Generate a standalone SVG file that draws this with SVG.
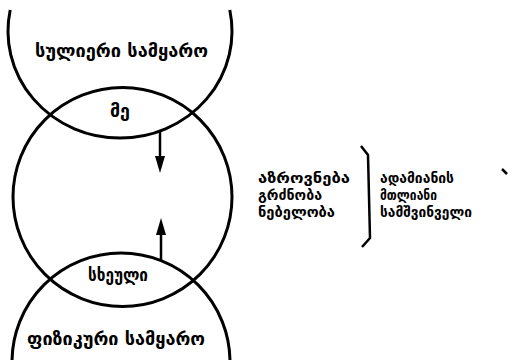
<svg xmlns="http://www.w3.org/2000/svg" width="508" height="360" viewBox="0 0 508 360">
<style>
.c{fill:none;stroke:#000;stroke-width:3}
.l{fill:none;stroke:#000;stroke-width:2.5}
.t{font-family:"DejaVu Sans",sans-serif;font-weight:bold;fill:#000}
.big{font-size:17px}
.sm{font-size:15px}
</style>
<g id="spiritual-world">
<path class="c" d="M10.2,10 A112,107 0 1 0 229.8,10"/>
<text class="t big" x="35" y="57" textLength="173" lengthAdjust="spacingAndGlyphs">სულიერი სამყარო</text>
</g>
<g id="soul">
<circle class="c" cx="122.5" cy="197" r="109.5"/>
</g>
<g id="physical-world">
<circle class="c" cx="121" cy="362" r="109"/>
<text class="t big" x="27" y="345" textLength="178" lengthAdjust="spacingAndGlyphs">ფიზიკური სამყარო</text>
</g>
<g id="me"><text class="t big" x="110" y="117" textLength="20" lengthAdjust="spacingAndGlyphs">მე</text></g>
<g id="body"><text class="t big" x="88" y="281" textLength="60" lengthAdjust="spacingAndGlyphs">სხეული</text></g>
<g id="connectors">
<line class="l" x1="160" y1="131" x2="160" y2="158"/>
<polygon points="155,156 165,156 160,173"/>
<line class="l" x1="161" y1="260" x2="161" y2="233"/>
<polygon points="156,235 166,235 161,218"/>
</g>
<g id="faculties">
<text class="t sm" x="258" y="183" textLength="92" lengthAdjust="spacingAndGlyphs">აზროვნება</text>
<text class="t sm" x="258" y="200" textLength="64" lengthAdjust="spacingAndGlyphs">გრძნობა</text>
<text class="t sm" x="258" y="217" textLength="77" lengthAdjust="spacingAndGlyphs">ნებელობა</text>
</g>
<g id="bracket">
<path class="l" d="M361,146 L368,155 L370,238 L362,247"/>
<line class="l" x1="502" y1="169" x2="507" y2="174"/>
</g>
<g id="whole-soul">
<text class="t sm" x="380" y="183" textLength="74" lengthAdjust="spacingAndGlyphs">ადამიანის</text>
<text class="t sm" x="380" y="200" textLength="57" lengthAdjust="spacingAndGlyphs">მთლიანი</text>
<text class="t sm" x="380" y="217" textLength="92" lengthAdjust="spacingAndGlyphs">სამშვინველი</text>
</g>
</svg>
